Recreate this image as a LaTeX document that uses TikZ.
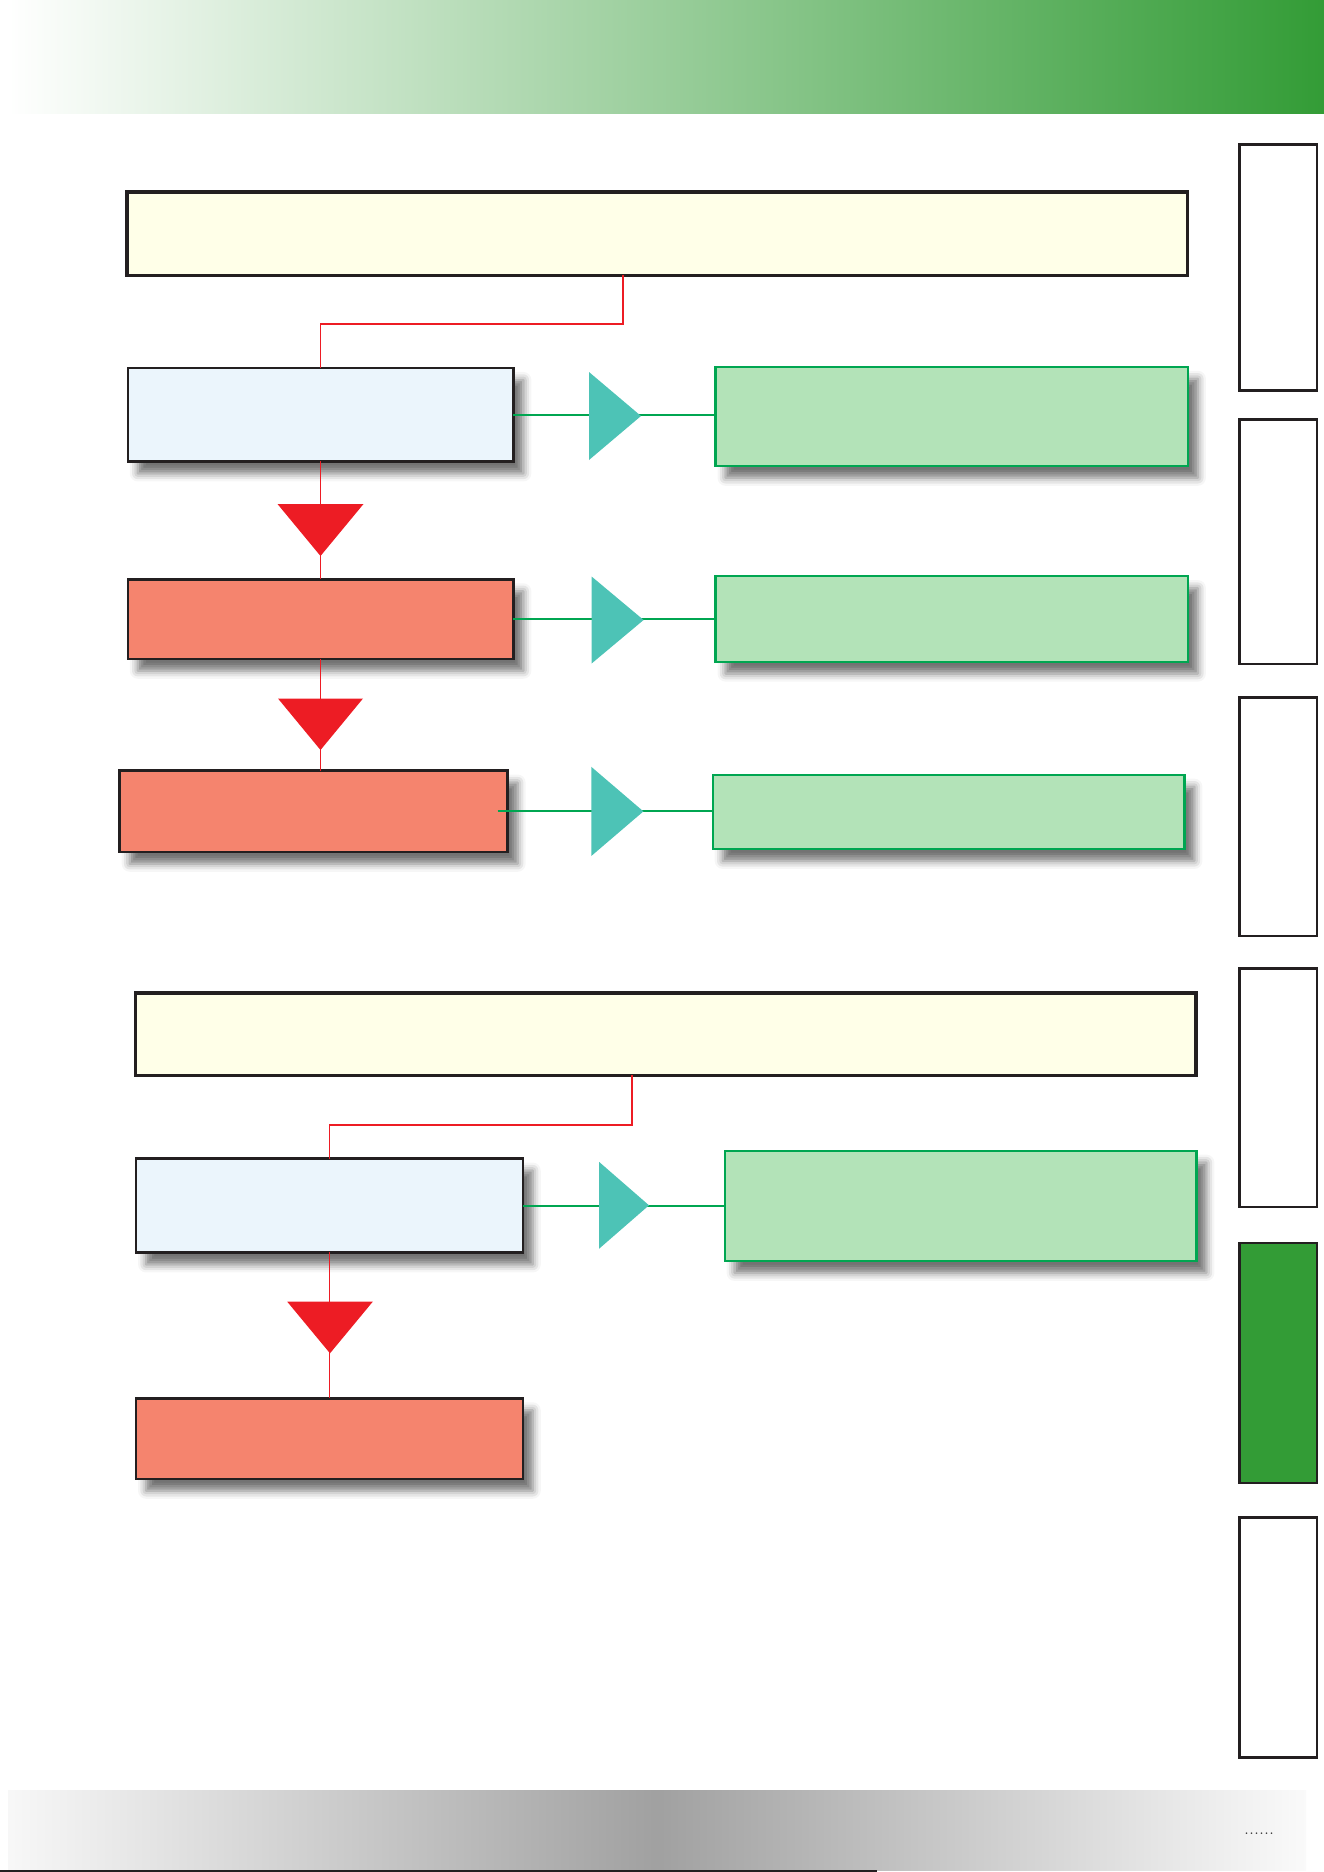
\documentclass[tikz,border=0pt]{standalone}
\usepackage{tikz}
\usetikzlibrary{shapes.geometric,calc,positioning,backgrounds,shadows.blur}

\definecolor{cIvory}{HTML}{FFFFE8}
\definecolor{cSky}{HTML}{EBF5FC}
\definecolor{cSalmon}{HTML}{F5846E}
\definecolor{cMint}{HTML}{B3E3B8}
\definecolor{cLeaf}{HTML}{00A651}
\definecolor{cTeal}{HTML}{4DC3B6}
\definecolor{cRed}{HTML}{ED1C24}
\definecolor{cEdge}{HTML}{231F20}
\definecolor{cTab}{HTML}{339C36}

\tikzset{
  box/.style={rectangle, anchor=north west, inner sep=0pt, outer sep=0pt},
  softshadow/.style={blur shadow={shadow xshift=10pt, shadow yshift=-12pt, shadow blur radius=8pt, shadow opacity=55}},
  headbox/.style={box, draw=cEdge, line width=3.5pt, fill=cIvory},
  startbox/.style={box, softshadow, draw=cEdge, line width=2.5pt, fill=cSky},
  stopbox/.style={box, softshadow, draw=cEdge, line width=2.5pt, fill=cSalmon},
  notebox/.style={box, softshadow, draw=cLeaf, line width=2.2pt, fill=cMint},
  tabbox/.style={box, draw=cEdge, line width=2.5pt},
  sidetri/.style={isosceles triangle, isosceles triangle stretches, fill=cTeal, inner sep=0pt, outer sep=0pt, anchor=apex, minimum height=52pt, minimum width=88pt},
  downtri/.style={isosceles triangle, isosceles triangle stretches, fill=cRed, inner sep=0pt, outer sep=0pt, anchor=apex, rotate=-90, minimum height=52pt, minimum width=86pt},
  rline/.style={draw=cRed, line width=1.7pt},
  gline/.style={draw=cLeaf, line width=2pt}
}

\begin{document}
\begin{tikzpicture}[x=1pt, y=-1pt]
  \useasboundingbox (0,0) rectangle (1324,1872);

  % banner and footer
  \shade[left color=white, right color=cTab] (8,0) rectangle (1324,113);
  \shade[left color=black!3, right color=black!2, middle color=black!37] (8,1790) rectangle (1306,1870);
  \draw[cEdge, line width=1.5pt] (0,1871.2) -- (877,1871.2);
  \node[font=\fontsize{20}{24}\selectfont, text=black!80, anchor=base, inner sep=0pt] (pageno) at (1259,1834) {......};

  % side tabs
  \node[tabbox, minimum width=77.5pt, minimum height=246pt] (tab1) at (1239.25,144.25) {};
  \node[tabbox, minimum width=77.5pt, minimum height=244.5pt] (tab2) at (1239.25,419.25) {};
  \node[tabbox, minimum width=77.5pt, minimum height=238.5pt] (tab3) at (1239.25,697.25) {};
  \node[tabbox, minimum width=77.5pt, minimum height=238.5pt] (tab4) at (1239.25,968.25) {};
  \node[tabbox, fill=cTab, minimum width=77.5pt, minimum height=240pt] (tab5) at (1239.25,1242.85) {};
  \node[tabbox, minimum width=77.5pt, minimum height=240pt] (tab6) at (1239.25,1517.25) {};

  % first chart
  \node[headbox, minimum width=1060.5pt, minimum height=83.5pt] (head1) at (126.75,191.75) {};
  \node[startbox, minimum width=385.6pt, minimum height=93.5pt] (blueA) at (127.75,367.95) {};
  \node[notebox, minimum width=472.4pt, minimum height=99pt] (greenA) at (715.5,366.8) {};
  \node[stopbox, minimum width=385.6pt, minimum height=79.5pt] (redB) at (127.75,579.25) {};
  \node[notebox, minimum width=472.4pt, minimum height=85.5pt] (greenB) at (715.5,576.1) {};
  \node[stopbox, minimum width=388pt, minimum height=81.2pt] (redC) at (119.65,770.55) {};
  \node[notebox, minimum width=471.7pt, minimum height=74.2pt] (greenC) at (712.7,774.7) {};

  \coordinate (bendA) at (623,324);
  \draw[rline] (head1.south -| bendA) -- (bendA) -| (blueA.north);
  \draw[rline] (blueA.south) -- (redB.north);
  \draw[rline] (redB.south) -- (redB.south |- redC.north);
  \draw[gline] (blueA.east) -- (blueA.east -| greenA.west);
  \draw[gline] (redB.east) -- (redB.east -| greenB.west);
  \draw[gline] ([xshift=-10pt]redC.east) -- (redC.east -| greenC.west);

  \node[sidetri] (tA) at (641,416) {};
  \node[sidetri, minimum width=87pt] (tB) at (643.6,620) {};
  \node[sidetri, minimum width=89pt] (tC) at (643.4,811.4) {};
  \node[downtri] (rA) at (320.5,556) {};
  \node[downtri, minimum height=51.5pt, minimum width=85pt] (rB) at (320.5,750) {};

  % second chart
  \node[headbox, minimum width=1060.3pt, minimum height=82.5pt] (head2) at (135.45,992.75) {};
  \node[startbox, minimum width=386.7pt, minimum height=93.9pt] (blueD) at (136.05,1158.55) {};
  \node[notebox, minimum width=471.8pt, minimum height=110.3pt] (greenD) at (724.6,1150.6) {};
  \node[stopbox, minimum width=386.7pt, minimum height=80.5pt] (redE) at (136.05,1398.25) {};

  \coordinate (bendB) at (632,1125);
  \draw[rline] (head2.south -| bendB) -- (bendB) -| (blueD.north);
  \draw[rline] (blueD.south) -- (redE.north);
  \draw[gline] (blueD.east) -- (blueD.east -| greenD.west);

  \node[sidetri, minimum height=50pt, minimum width=87pt] (tD) at (649,1205.3) {};
  \node[downtri, minimum height=51.6pt, minimum width=85.5pt] (rC) at (330,1353.3) {};

\end{tikzpicture}
\end{document}
